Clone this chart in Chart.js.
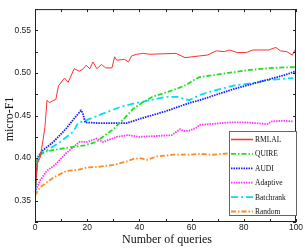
<!DOCTYPE html>
<html lang="en">
  <head>
    <meta charset="UTF-8" />
    <title>micro-F1</title>
    <script src="https://cdn.jsdelivr.net/npm/chart.js@4"></script>
    <style>
      html, body { margin: 0; padding: 0; background: #fff; }
      #wrap { width: 305px; height: 249px; }
    </style>
  </head>
  <body>
    <div id="wrap"><canvas id="myChart" width="305" height="249"></canvas></div>
    <script>
      // series as [queries, micro-F1] pairs
      const seriesNames = ["RMLAL", "QUIRE", "AUDI", "Adaptive", "Batchrank", "Random"];
      const rmlal = [[0,0.357],[0.8,0.393],[2,0.401],[3,0.42],[3.8,0.436],[4.6,0.468],[5.5,0.465],[6.6,0.467],[8,0.469],[9,0.485],[11.3,0.494],[12.7,0.489],[15,0.505],[17,0.502],[18.5,0.505],[19.6,0.509],[21,0.505],[22.2,0.513],[23.7,0.505],[25.5,0.51],[27,0.506],[29.5,0.506],[30.5,0.519],[31.3,0.515],[34.3,0.516],[35.8,0.513],[37,0.52],[39,0.522],[41.5,0.523],[44,0.522],[54,0.523],[57.5,0.518],[63,0.52],[66,0.521],[69.5,0.526],[72.5,0.525],[74.5,0.527],[77.5,0.524],[81,0.524],[83.5,0.527],[89.5,0.527],[92.3,0.53],[94,0.526],[96.5,0.525],[98.6,0.521],[100,0.529]];
      const quire = [[0,0.356],[0.5,0.385],[1,0.402],[2,0.405],[4.6,0.408],[8,0.41],[13,0.4125],[19,0.415],[23.5,0.419],[26,0.425],[28.7,0.431],[30,0.434],[34,0.446],[37.7,0.458],[41,0.465],[45,0.472],[49,0.476],[53,0.48],[58,0.486],[61,0.492],[63,0.495],[69.5,0.498],[76,0.501],[83.5,0.504],[91,0.506],[100,0.507]];
      const audi = [[0,0.357],[0.7,0.395],[1.5,0.403],[3,0.409],[7,0.419],[10.8,0.431],[12,0.435],[14.6,0.445],[17.6,0.456],[18.3,0.453],[19.2,0.442],[25,0.441],[30,0.441],[35,0.441],[40,0.446],[50,0.455],[59.4,0.465],[63,0.468],[70,0.475],[76,0.481],[83,0.487],[89,0.492],[95,0.497],[100,0.502]];
      const adaptive = [[0,0.36],[2,0.374],[4.5,0.385],[7.7,0.392],[12,0.406],[17,0.419],[20,0.419],[23.6,0.423],[26,0.419],[31.4,0.425],[35.7,0.427],[40,0.425],[46.6,0.426],[52.4,0.427],[55.6,0.434],[57,0.432],[59,0.432],[62,0.436],[63,0.439],[67,0.44],[75,0.442],[80,0.442],[85,0.441],[89,0.44],[90.5,0.443],[95,0.444],[99,0.443]];
      const batchrank = [[0,0.349],[0.5,0.38],[1.2,0.4],[2.5,0.405],[4.6,0.409],[9.6,0.419],[14.6,0.431],[16.5,0.441],[20,0.445],[25,0.451],[32.6,0.46],[37.6,0.464],[44,0.468],[50.5,0.472],[54.4,0.472],[59,0.468],[63,0.474],[66,0.477],[72,0.482],[76,0.485],[85,0.489],[90,0.492],[99,0.494]];
      const random = [[0,0.356],[2,0.366],[7,0.377],[12,0.385],[16,0.386],[20,0.389],[25,0.39],[30,0.392],[32.6,0.394],[35,0.396],[37.7,0.399],[40,0.4],[43,0.398],[46.7,0.402],[53,0.404],[59.4,0.404],[63,0.405],[68,0.404],[76,0.406],[86,0.406],[95,0.407],[97.5,0.405],[100,0.41]];
      const xTicks = [0, 20, 40, 60, 80, 100];
      const yTicks = [0.35, 0.4, 0.45, 0.5, 0.55];

      const toPts = (arr) => arr.map((p) => ({ x: p[0], y: p[1] }));

      function ds(label, data, color, dash, width) {
        return {
          label: label,
          data: toPts(data),
          borderColor: color,
          backgroundColor: color,
          borderDash: dash,
          borderWidth: width,
          pointRadius: 0,
          tension: 0,
          fill: false,
        };
      }

      // box, inward ticks, axis titles and legend drawn like the matlab figure
      const framePlugin = {
        id: "frame",
        afterDraw(chart) {
          const ctx = chart.ctx;
          const a = chart.chartArea;
          const xs = chart.scales.x;
          const ys = chart.scales.y;
          ctx.save();
          ctx.strokeStyle = "#222";
          ctx.lineWidth = 1;
          ctx.setLineDash([]);
          ctx.strokeRect(a.left + 0.5, a.top + 0.5, a.right - a.left - 1, a.bottom - a.top - 1);
          ctx.beginPath();
          for (let v = 0; v <= 100; v += 10) {
            const px = Math.round(xs.getPixelForValue(v)) + 0.5;
            ctx.moveTo(px, a.bottom);
            ctx.lineTo(px, a.bottom - 3);
            ctx.moveTo(px, a.top);
            ctx.lineTo(px, a.top + 3);
          }
          for (let i = 0; i <= 10; i++) {
            const v = 0.325 + i * 0.025;
            const py = Math.round(ys.getPixelForValue(v)) + 0.5;
            ctx.moveTo(a.left, py);
            ctx.lineTo(a.left + 3, py);
            ctx.moveTo(a.right, py);
            ctx.lineTo(a.right - 3, py);
          }
          ctx.stroke();

          // axis titles
          ctx.fillStyle = "#111";
          ctx.font = '12px "Liberation Serif"';
          ctx.textAlign = "center";
          ctx.textBaseline = "alphabetic";
          ctx.fillText("Number of queries", 167, 243);
          ctx.save();
          ctx.translate(13, 119);
          ctx.rotate(-Math.PI / 2);
          ctx.fillText("micro-F1", 0, 0);
          ctx.restore();

          // legend
          const lx = 229, ly = 131, lw = 68, lh = 85;
          ctx.fillStyle = "#fff";
          ctx.fillRect(lx, ly, lw, lh);
          ctx.strokeStyle = "#666";
          ctx.strokeRect(lx + 0.5, ly + 0.5, lw - 1, lh - 1);
          ctx.font = '7.5px "Liberation Serif"';
          ctx.textAlign = "left";
          ctx.textBaseline = "middle";
          chart.data.datasets.forEach((d, i) => {
            const y = ly + 8.5 + i * 14.4;
            ctx.strokeStyle = d.borderColor;
            ctx.lineWidth = Math.max(d.borderWidth, 1.5);
            ctx.setLineDash(d.borderDash);
            ctx.beginPath();
            ctx.moveTo(lx + 2, y);
            ctx.lineTo(lx + 24, y);
            ctx.stroke();
            ctx.setLineDash([]);
            ctx.fillStyle = "#111";
            ctx.fillText(d.label, lx + 26, y + 0.5);
          });
          ctx.restore();
        },
      };

      const ctx = document.getElementById("myChart").getContext("2d");
      const myChart = new Chart(ctx, {
        type: "line",
        data: {
          datasets: [
            ds(seriesNames[0], rmlal, "#ff3030", [], 1),
            ds(seriesNames[1], quire, "#1ee01e", [5, 2, 1.5, 2], 1.8),
            ds(seriesNames[2], audi, "#1a1aff", [1.5, 1], 1.8),
            ds(seriesNames[3], adaptive, "#ff33ff", [1.5, 1], 1.8),
            ds(seriesNames[4], batchrank, "#00e0f0", [7, 3, 2, 3], 1.8),
            ds(seriesNames[5], random, "#ff8a1e", [5, 2, 1.5, 2], 1.8),
          ],
        },
        options: {
          responsive: false,
          animation: false,
          layout: { padding: { top: 1, right: 9, left: 0, bottom: 0 } },
          plugins: { legend: { display: false }, tooltip: { enabled: false } },
          scales: {
            x: {
              type: "linear",
              min: 0,
              max: 100,
              afterFit(scale) { scale.height = 27; },
              afterBuildTicks(scale) { scale.ticks = xTicks.map((v) => ({ value: v })); },
              grid: { display: false, drawTicks: false },
              border: { display: false },
              ticks: {
                padding: 1,
                color: "#222",
                font: { family: '"Liberation Sans"', size: 8.5 },
                maxRotation: 0,
              },
            },
            y: {
              min: 0.325,
              max: 0.575,
              afterFit(scale) { scale.width = 35; },
              afterBuildTicks(scale) { scale.ticks = yTicks.map((v) => ({ value: v })); },
              grid: { display: false, drawTicks: false },
              border: { display: false },
              ticks: {
                padding: 4,
                color: "#222",
                font: { family: '"Liberation Sans"', size: 8.5 },
                callback: (v) => v.toFixed(2),
              },
            },
          },
        },
        plugins: [framePlugin],
      });
    </script>
  </body>
</html>
